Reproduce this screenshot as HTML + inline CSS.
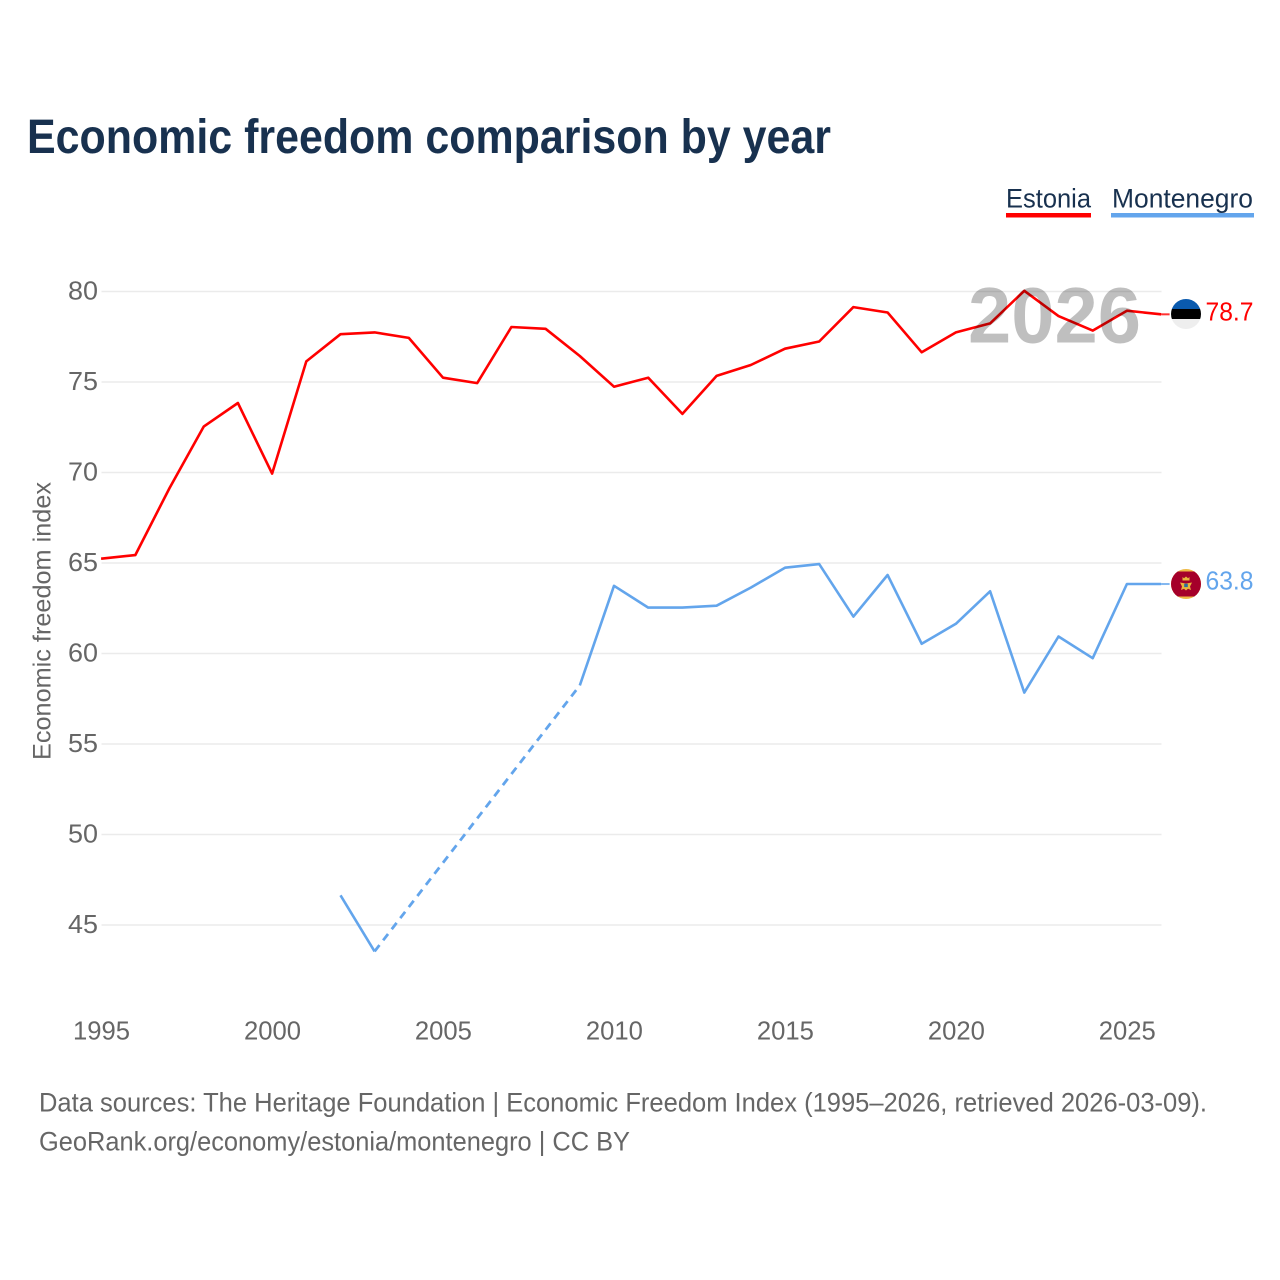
<!DOCTYPE html>
<html lang="en">
<head>
<meta charset="utf-8">
<title>Economic freedom comparison by year</title>
<style>
html,body{margin:0;padding:0;background:#fff;}
svg{display:block;font-family:"Liberation Sans",sans-serif;}
</style>
</head>
<body>
<svg id="chart" xmlns="http://www.w3.org/2000/svg" width="1280" height="1280" viewBox="0 0 1280 1280">
  <rect width="1280" height="1280" fill="#ffffff"/>
  <text x="27" y="153" font-size="48" font-weight="700" fill="#18314f" textLength="804" lengthAdjust="spacingAndGlyphs">Economic freedom comparison by year</text>

  <g>
    <text x="1006" y="207.5" font-size="26.5" fill="#18314f" textLength="85" lengthAdjust="spacingAndGlyphs">Estonia</text>
    <rect x="1006" y="213" width="85" height="4.5" fill="#ff0000"/>
  </g>
  <g>
    <text x="1112" y="207.5" font-size="26.5" fill="#18314f" textLength="141" lengthAdjust="spacingAndGlyphs">Montenegro</text>
    <rect x="1111" y="213" width="143" height="4.5" fill="#63a5ec"/>
  </g>

  <g id="grid"></g>
  <g id="yticks"></g>
  <g id="xticks"></g>
  <text transform="translate(50.5,621) rotate(-90)" text-anchor="middle" font-size="25" fill="#666666" textLength="278" lengthAdjust="spacingAndGlyphs">Economic freedom index</text>

  <g id="series" transform="translate(-0.4,-0.7)"></g>

  <text x="968" y="342.5" font-size="79" font-weight="700" fill="#000000" fill-opacity="0.25" textLength="173" lengthAdjust="spacingAndGlyphs">2026</text>

  <g>
    <clipPath id="clip-ee"><circle cx="1186" cy="314" r="15"/></clipPath>
    <g clip-path="url(#clip-ee)">
      <rect x="1171" y="299" width="30" height="10" fill="#0a5aae"/>
      <rect x="1171" y="309" width="30" height="10" fill="#000000"/>
      <rect x="1171" y="319" width="30" height="10" fill="#eeeeee"/>
    </g>
  </g>
  <g>
    <clipPath id="clip-me"><circle cx="1186" cy="584" r="15"/></clipPath>
    <g clip-path="url(#clip-me)">
      <rect x="1171" y="569" width="30" height="30" fill="#eeb945"/>
      <rect x="1171" y="571.5" width="30" height="25" fill="#a5002a"/>
    </g>
    <path d="M1182.5 577l1.5 1.2 2-1.7 2 1.7 1.5-1.2v3.5h-7z" fill="#e8b53c"/>
    <path d="M1180 582.5l6 1 6-1-2 4 1 3.5-3-1.2-2 1.7-2-1.7-3 1.2 1-3.5z" fill="#e8b53c"/>
    <rect x="1184.2" y="583.7" width="3.6" height="3.4" fill="#2a6f9e"/>
  </g>

  <text id="value-estonia" x="1205.5" y="320.5" font-size="25.5" fill="#ff0000" textLength="48" lengthAdjust="spacingAndGlyphs"></text>
  <text id="value-montenegro" x="1205.5" y="589.5" font-size="25.5" fill="#63a5ec" textLength="48" lengthAdjust="spacingAndGlyphs"></text>

  <text x="39" y="1111.5" font-size="26.5" fill="#666666" textLength="1168" lengthAdjust="spacingAndGlyphs">Data sources: The Heritage Foundation | Economic Freedom Index (1995–2026, retrieved 2026-03-09).</text>
  <text x="39" y="1150.5" font-size="26.5" fill="#666666" textLength="591" lengthAdjust="spacingAndGlyphs">GeoRank.org/economy/estonia/montenegro | CC BY</text>
</svg>
<script>
const years = [1995,1996,1997,1998,1999,2000,2001,2002,2003,2004,2005,2006,2007,2008,2009,2010,2011,2012,2013,2014,2015,2016,2017,2018,2019,2020,2021,2022,2023,2024,2025,2026];
const estonia = [65.2,65.4,69.1,72.5,73.8,69.9,76.1,77.6,77.7,77.4,75.2,74.9,78.0,77.9,76.4,74.7,75.2,73.2,75.3,75.9,76.8,77.2,79.1,78.8,76.6,77.7,78.2,80.0,78.6,77.8,78.9,78.7];
const montenegro = [null,null,null,null,null,null,null,46.6,43.5,null,null,null,null,null,58.2,63.7,62.5,62.5,62.6,63.6,64.7,64.9,62.0,64.3,60.5,61.6,63.4,57.8,60.9,59.7,63.8,63.8];
const yTickValues = [45,50,55,60,65,70,75,80];
const xTickValues = [1995,2000,2005,2010,2015,2020,2025];

const NS = 'http://www.w3.org/2000/svg';
function xScale(year){ return 101.5 + (year - 1995) * (1161.5 - 101.5) / (2026 - 1995); }
function yScale(v){ return 291.5 + (80 - v) * (925 - 291.5) / (80 - 45); }
function make(tag, attrs, parent){
  const el = document.createElementNS(NS, tag);
  for (const k in attrs) el.setAttribute(k, attrs[k]);
  parent.appendChild(el);
  return el;
}

const gridG = document.getElementById('grid');
const yG = document.getElementById('yticks');
const xG = document.getElementById('xticks');
const seriesG = document.getElementById('series');

yTickValues.forEach(function(v){
  const line = make('line', {x1:101.5, x2:1161.5, y1:yScale(v), y2:yScale(v), stroke:'#ebebeb', 'stroke-width':1.5}, gridG);
  
  
  const t = make('text', {x:98, y:yScale(v)+8, 'text-anchor':'end', 'font-size':25.5, fill:'#666666', textLength:30, lengthAdjust:'spacingAndGlyphs'}, yG);
  t.textContent = v;
  
  
});

xTickValues.forEach(function(y){
  const t = make('text', {x:xScale(y), y:1039.5, 'text-anchor':'middle', 'font-size':25.5, fill:'#666666', textLength:57, lengthAdjust:'spacingAndGlyphs'}, xG);
  t.textContent = y;
  
  
});

function drawSeries(name, values, color){
  let solid = '';
  let gap = '';
  let prev = -1;
  values.forEach(function(v, i){
    if (v === null) return;
    const px = xScale(years[i]).toFixed(1);
    const py = yScale(v).toFixed(1);
    if (prev === -1) {
      solid += 'M' + px + ' ' + py;
    } else if (prev === i - 1) {
      solid += 'L' + px + ' ' + py;
    } else {
      gap += 'M' + xScale(years[prev]).toFixed(1) + ' ' + yScale(values[prev]).toFixed(1) + 'L' + px + ' ' + py;
      solid += 'M' + px + ' ' + py;
    }
    prev = i;
  });
  if (gap) {
    const g = make('path', {d:gap, fill:'none', stroke:color, 'stroke-width':2.8, 'stroke-dasharray':'8 6'}, seriesG);
    
    
  }
  const p = make('path', {d:solid, fill:'none', stroke:color, 'stroke-width':2.6, 'stroke-linejoin':'round'}, seriesG);
  
  
  const last = values[values.length - 1];
  const leader = make('line', {x1:xScale(2026), x2:1170, y1:yScale(last), y2:yScale(last), stroke:color, 'stroke-width':2, 'stroke-opacity':0.8}, seriesG);
  
  
}

drawSeries('estonia', estonia, '#ff0000');
drawSeries('montenegro', montenegro, '#63a5ec');

document.getElementById('value-estonia').textContent = estonia[estonia.length - 1].toFixed(1);
document.getElementById('value-montenegro').textContent = montenegro[montenegro.length - 1].toFixed(1);
</script>
</body>
</html>
